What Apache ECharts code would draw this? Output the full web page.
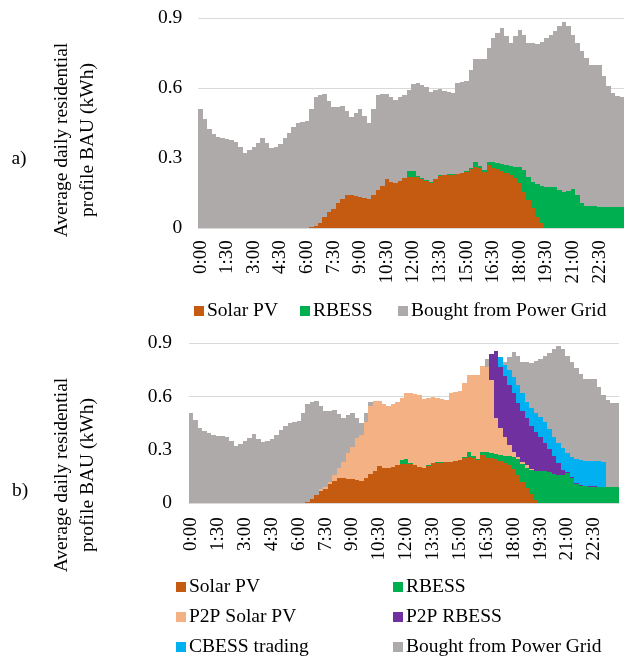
<!DOCTYPE html>
<html>
<head>
<meta charset="utf-8">
<script src="https://cdn.jsdelivr.net/npm/echarts@6/dist/echarts.min.js"></script>
<style>html,body{margin:0;padding:0;background:#fff}#c{width:624px;height:663px}</style>
</head>
<body>
<div id="c"></div>
<script>
// 15-minute time slots (96)
const categories = [];
for (let h = 0; h < 24; h++) { for (const m of ['00','15','30','45']) categories.push(h + ':' + m); }
const yTickLabels = ['0', '0.3', '0.6', '0.9'];

const solarPV = [0,0,0,0,0,0,0,0,0,0, 0,0,0,0,0,0,0,0,0,0, 0,0,0,0,0,
0.004,0.010,0.024,0.047,0.071,
0.081,0.107,0.124,0.143,0.141,0.139,0.136,0.129,0.124,0.143,
0.164,0.181,0.210,0.200,0.196,0.204,0.214,0.221,0.221,0.219,
0.213,0.204,0.196,0.210,0.226,0.227,0.229,0.230,0.231,0.236,
0.243,0.253,0.261,0.257,0.243,0.271,0.257,0.253,0.247,0.239,
0.229,0.214,0.193,0.157,0.121,0.086,0.050,0.021,0,0,
0,0,0,0,0,0,0,0,0,0,
0,0,0,0,0,0];

const rbess = [0,0,0,0,0,0,0,0,0,0, 0,0,0,0,0,0,0,0,0,0, 0,0,0,0,0,0,0,0,0,0, 0,0,0,0,0,0,0,0,0,0,
0,0,0,0,0,0,0,0.024,0.026,0.006,
0.003,0.003,0.003,0.003,0.003,0.003,0.003,0.003,0.003,0.003,
0.003,0.007,0.025,0.008,0.007,0.015,0.029,0.028,0.029,0.032,
0.038,0.050,0.069,0.093,0.100,0.114,0.140,0.161,0.179,0.179,
0.176,0.164,0.157,0.160,0.168,0.143,0.107,0.097,0.095,0.094,
0.093,0.093,0.092,0.091,0.090,0.090];

const gridA = [0.510,0.467,0.424,0.404,0.393,0.386,0.381,0.379,0.371,0.350,
0.324,0.336,0.350,0.367,0.389,0.364,0.343,0.350,0.360,0.386,
0.410,0.433,0.453,0.457,0.461,0.506,0.551,0.547,0.529,0.476,
0.438,0.412,0.400,0.361,0.338,0.357,0.374,0.352,0.329,0.367,
0.407,0.393,0.366,0.361,0.354,0.357,0.357,0.348,0.372,0.396,
0.398,0.400,0.387,0.380,0.367,0.360,0.354,0.346,0.387,0.387,
0.387,0.419,0.438,0.459,0.474,0.485,0.528,0.558,0.581,0.553,
0.529,0.560,0.588,0.579,0.575,0.593,0.599,0.618,0.635,0.650,
0.671,0.703,0.727,0.707,0.661,0.650,0.654,0.632,0.605,0.606,
0.607,0.560,0.518,0.490,0.477,0.474];

const p2pSolar = [0,0,0,0,0,0,0,0,0,0, 0,0,0,0,0,0,0,0,0,0,
0,0,0,0,0,0,0,0,0,0.010,
0.013,0.015,0.035,0.054,0.093,0.142,0.183,0.237,0.260,0.316,
0.386,0.393,0.366,0.361,0.354,0.357,0.357,0.348,0.372,0.396,
0.398,0.400,0.387,0.380,0.367,0.360,0.354,0.346,0.387,0.387,
0.387,0.419,0.438,0.459,0.474,0.485,0.483,0.413,0.202,0.151,
0.108,0.064,0.029,0.009,0.013,0.016,0.005,0,0,0,
0,0,0,0,0,0,0,0,0,0,
0,0,0,0,0,0];

const p2pRbess = [0,0,0,0,0,0,0,0,0,0, 0,0,0,0,0,0,0,0,0,0, 0,0,0,0,0,0,0,0,0,0,
0,0,0,0,0,0,0,0,0,0, 0,0,0,0,0,0,0,0,0,0, 0,0,0,0,0,0,0,0,0,0,
0,0,0,0,0,0,0,0.145,0.379,0.347,
0.341,0.338,0.328,0.304,0.287,0.262,0.240,0.221,0.192,0.159,
0.128,0.102,0.068,0.028,0.010,0.005,0.005,0.005,0.004,0.004,
0.003,0,0,0,0,0];

const cbessTrading = [0,0,0,0,0,0,0,0,0,0, 0,0,0,0,0,0,0,0,0,0, 0,0,0,0,0,0,0,0,0,0,
0,0,0,0,0,0,0,0,0,0, 0,0,0,0,0,0,0,0,0,0, 0,0,0,0,0,0,0,0,0,0,
0,0,0,0,0,0,0,0,0,0.055,
0.064,0.084,0.094,0.104,0.098,0.094,0.099,0.107,0.113,0.117,
0.112,0.109,0.113,0.122,0.103,0.111,0.136,0.142,0.141,0.142,
0.140,0.143,0.140,0,0,0];

const gridB = [0.510,0.467,0.424,0.404,0.393,0.386,0.381,0.379,0.371,0.350,
0.324,0.336,0.350,0.367,0.389,0.364,0.343,0.350,0.360,0.386,
0.410,0.433,0.453,0.457,0.461,0.506,0.551,0.547,0.529,0.466,
0.425,0.397,0.365,0.307,0.245,0.215,0.191,0.115,0.069,0.051,
0.021,0,0,0,0,0,0,0,0,0,
0,0,0,0,0,0,0,0,0,0,
0,0,0,0,0,0,0.045,0,0,0,
0.016,0.074,0.138,0.163,0.177,0.221,0.255,0.290,0.330,0.375,
0.431,0.492,0.547,0.558,0.548,0.534,0.514,0.485,0.460,0.460,
0.464,0.417,0.378,0.490,0.477,0.474];

const colors = {
  'Solar PV': '#C55A11',
  'RBESS': '#00B050',
  'P2P Solar PV': '#F4B183',
  'P2P RBESS': '#7030A0',
  'CBESS trading': '#00B0F0',
  'Bought from Power Grid': '#AEAAAA'
};

const FONT = '"Liberation Serif", "Times New Roman", serif';
const chart = echarts.init(document.getElementById('c'), null, {renderer: 'canvas'});

function xAx(gi, margin) {
  return {
    type: 'category', gridIndex: gi, data: categories, boundaryGap: true,
    axisTick: {show: false},
    axisLine: {show: true, lineStyle: {color: '#d9d9d9'}},
    axisLabel: {interval: 5, rotate: 90, margin: margin, color: '#000', fontFamily: FONT, fontSize: 19}
  };
}
function yAx(gi, margin) {
  return {
    type: 'value', gridIndex: gi, min: 0, max: 0.9, interval: 0.3,
    axisLine: {show: false}, axisTick: {show: false},
    splitLine: {lineStyle: {color: '#d9d9d9', width: 1}},
    axisLabel: {margin: margin, color: '#000', fontFamily: FONT, fontSize: 19.5,
      formatter: (v, i) => yTickLabels[i]}
  };
}
// Stacked column segment drawn through the axes; edges snapped to whole pixels
// so neighbouring columns join without seams (Excel-like 0-gap columns).
function seg(name, data, gi, below) {
  const base = data.map((_, i) => below.reduce((s, arr) => s + arr[i], 0));
  const color = colors[name];
  return {
    name: name, type: 'custom', xAxisIndex: gi, yAxisIndex: gi,
    data: data.map((v, i) => [i, v]),
    encode: {x: 0, y: 1},
    itemStyle: {color: color},
    silent: true, animation: false,
    renderItem: function (params, api) {
      const i = params.dataIndex;
      const v = data[i];
      if (!v) return null;
      const p0 = api.coord([i, base[i]]);
      const p1 = api.coord([i, base[i] + v]);
      const w = api.size([1, 0])[0];
      const x0 = Math.round(p0[0] - w / 2), x1 = Math.round(p0[0] + w / 2);
      const y0 = Math.round(p0[1]), y1 = Math.round(p1[1]);
      if (y0 - y1 <= 0) return null;
      return {type: 'rect', shape: {x: x0, y: y1, width: x1 - x0, height: y0 - y1},
        style: {fill: color}};
    }
  };
}
function leg(name, left, top) {
  return {
    data: [name], left: left, top: top, orient: 'horizontal',
    icon: 'rect', itemWidth: 10, itemHeight: 10, itemGap: 0, padding: 0,
    selectedMode: false,
    textStyle: {fontFamily: FONT, fontSize: 19.5, color: '#000', padding: [0, 0, 0, -2]}
  };
}

const option = {
  backgroundColor: '#fff',
  animation: false,
  grid: [
    {left: 198.3, top: 18.3, width: 427, height: 210},
    {left: 189, top: 343.3, width: 430, height: 160}
  ],
  xAxis: [xAx(0, 12), xAx(1, 14)],
  yAxis: [yAx(0, 16), yAx(1, 17)],
  legend: [
    leg('Solar PV', 194, 301),
    leg('RBESS', 300, 301),
    leg('Bought from Power Grid', 398, 301),
    leg('Solar PV', 176, 577),
    leg('RBESS', 393, 577),
    leg('P2P Solar PV', 176, 607),
    leg('P2P RBESS', 393, 607),
    leg('CBESS trading', 176, 637),
    leg('Bought from Power Grid', 393, 637)
  ],
  graphic: [
    {type: 'text', x: 75, y: 140, rotation: Math.PI / 2,
      style: {text: 'Average daily residential\nprofile BAU (kWh)', font: '19.5px ' + FONT,
        textAlign: 'center', textVerticalAlign: 'middle', fill: '#000', lineHeight: 26}},
    {type: 'text', x: 19, y: 159,
      style: {text: 'a)', font: '19.5px ' + FONT, textAlign: 'center', textVerticalAlign: 'middle', fill: '#000'}},
    {type: 'text', x: 75, y: 475, rotation: Math.PI / 2,
      style: {text: 'Average daily residential\nprofile BAU (kWh)', font: '19.5px ' + FONT,
        textAlign: 'center', textVerticalAlign: 'middle', fill: '#000', lineHeight: 26}},
    {type: 'text', x: 20, y: 491,
      style: {text: 'b)', font: '19.5px ' + FONT, textAlign: 'center', textVerticalAlign: 'middle', fill: '#000'}}
  ],
  series: [
    seg('Solar PV', solarPV, 0, []),
    seg('RBESS', rbess, 0, [solarPV]),
    seg('Bought from Power Grid', gridA, 0, [solarPV, rbess]),
    seg('Solar PV', solarPV, 1, []),
    seg('RBESS', rbess, 1, [solarPV]),
    seg('P2P Solar PV', p2pSolar, 1, [solarPV, rbess]),
    seg('P2P RBESS', p2pRbess, 1, [solarPV, rbess, p2pSolar]),
    seg('CBESS trading', cbessTrading, 1, [solarPV, rbess, p2pSolar, p2pRbess]),
    seg('Bought from Power Grid', gridB, 1, [solarPV, rbess, p2pSolar, p2pRbess, cbessTrading])
  ]
};
chart.setOption(option);
</script>
</body>
</html>
